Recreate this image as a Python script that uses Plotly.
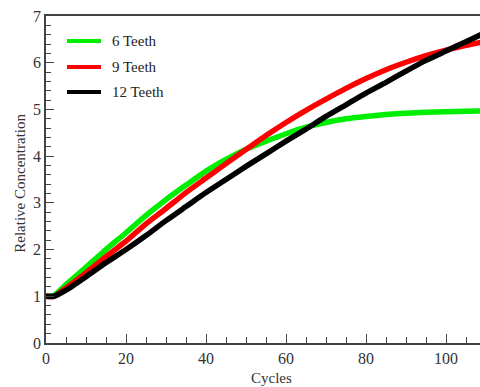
import plotly.graph_objects as go

cycles = [0, 2, 5, 10, 15, 20, 25, 30, 35, 40, 45, 50, 55, 60, 65, 70, 75, 80, 85, 90, 95, 100, 105, 110]
teeth6 = [1.0, 1.02, 1.25, 1.62, 2.0, 2.36, 2.73, 3.07, 3.38, 3.68, 3.93, 4.15, 4.32, 4.48, 4.62, 4.72, 4.80, 4.85, 4.89, 4.92, 4.94, 4.95, 4.96, 4.97]
teeth9 = [1.0, 1.0, 1.18, 1.5, 1.85, 2.18, 2.55, 2.88, 3.22, 3.53, 3.84, 4.14, 4.44, 4.72, 4.98, 5.22, 5.45, 5.66, 5.85, 6.01, 6.15, 6.27, 6.37, 6.46]
teeth12 = [1.0, 1.0, 1.13, 1.42, 1.72, 2.0, 2.3, 2.62, 2.92, 3.22, 3.5, 3.78, 4.05, 4.32, 4.58, 4.85, 5.1, 5.35, 5.58, 5.82, 6.05, 6.25, 6.45, 6.65]

series = [("6 Teeth", teeth6, "#00ee00"), ("9 Teeth", teeth9, "#ff0000"), ("12 Teeth", teeth12, "#000000")]

font = "Liberation Serif"
axc = "#444444"
txtc = "#333333"

fig = go.Figure()
for name, vals, col in series:
    fig.add_trace(go.Scatter(x=cycles, y=vals, mode="lines", name=name, showlegend=False,
                             line=dict(color=col, width=5.5, shape="spline", smoothing=0.6)))

# manual legend (layout only)
leg_rows = [0.9235, 0.844, 0.7676]
shapes = []
annotations = []
for (name, vals, col), yy in zip(series, leg_rows):
    shapes.append(dict(type="line", xref="paper", yref="paper", x0=0.0484, x1=0.1267, y0=yy, y1=yy,
                       line=dict(color=col, width=4)))
    annotations.append(dict(text=name, xref="paper", yref="paper", x=0.1475, y=yy, showarrow=False,
                            xanchor="left", yanchor="middle",
                            font=dict(family=font, size=15, color="#222222")))

annotations += [
    dict(text="Cycles", xref="paper", yref="paper", x=0.52, y=-0.107, showarrow=False,
         font=dict(family=font, size=15, color=txtc), xanchor="center", yanchor="middle"),
    dict(text="Relative Concentration", xref="paper", yref="paper", x=-0.06, y=0.49,
         showarrow=False, textangle=-90, font=dict(family=font, size=15, color=txtc),
         xanchor="center", yanchor="middle"),
]

fig.update_layout(
    width=480, height=387,
    margin=dict(l=46, r=0, t=16, b=44),
    paper_bgcolor="white", plot_bgcolor="white",
    font=dict(family=font, size=15, color=txtc),
    showlegend=False,
    shapes=shapes,
    annotations=annotations,
    xaxis=dict(range=[0, 108.5], tickvals=[0, 20, 40, 60, 80, 100], ticks="inside", ticklen=9,
               tickcolor=axc, tickwidth=1, showline=True, linecolor=axc, linewidth=1.5, mirror=True,
               showgrid=False, zeroline=False, tickfont=dict(family=font, size=16, color=txtc),
               minor=dict(dtick=5, ticks="inside", ticklen=6, tickcolor=axc, showgrid=False)),
    yaxis=dict(range=[0, 7], dtick=1, ticks="inside", ticklen=8, tickcolor=axc, tickwidth=1,
               showline=True, linecolor=axc, linewidth=1.5, showgrid=False, zeroline=False,
               tickfont=dict(family=font, size=16, color=txtc),
               minor=dict(dtick=0.2, ticks="inside", ticklen=5, tickcolor=axc, showgrid=False)),
)

fig.write_html("out.html")
